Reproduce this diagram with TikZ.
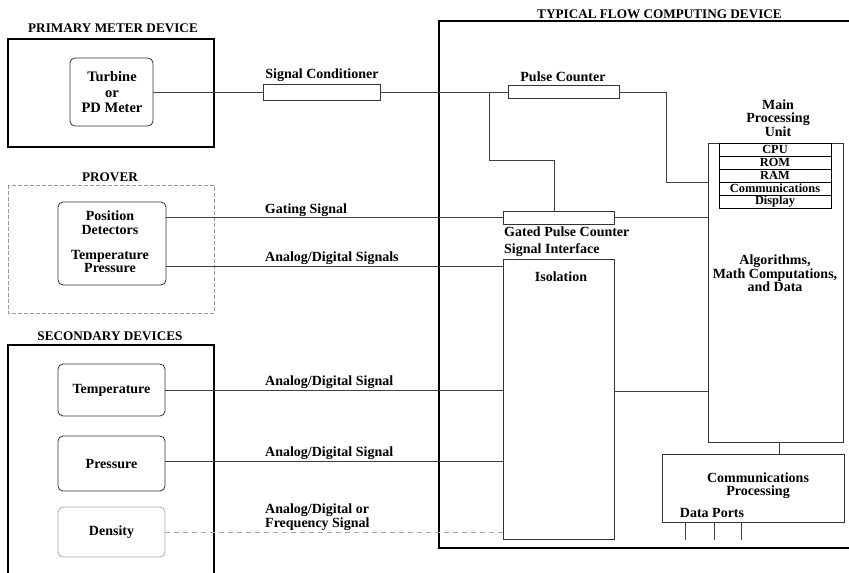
\documentclass[tikz,border=0pt]{standalone}
\usepackage{fontspec}
\setmainfont{Liberation Serif}
\begin{document}
\begin{tikzpicture}[x=1pt,y=-1pt,
  lbl/.style={font=\fontsize{14}{13.5}\selectfont\bfseries, inner sep=0pt, align=center},
  head/.style={font=\fontsize{13.2}{13.5}\selectfont\bfseries, inner sep=0pt, align=center},
  small/.style={font=\fontsize{12.4}{12}\selectfont\bfseries, inner sep=0pt},
  thickbox/.style={draw=black, line width=1.8pt},
  dev/.style={draw=black!80, line width=0.8pt, rounded corners=5pt, inner sep=0pt, outer sep=0pt},
  blk/.style={draw=black!80, line width=0.8pt, inner sep=0pt, outer sep=0pt},
  conn/.style={draw=black!75, line width=0.8pt},
  faint/.style={draw=black!35, line width=0.8pt, dashed, dash pattern=on 5pt off 4pt}]
\useasboundingbox (0,0) rectangle (849,573);
% outer boxes
\draw[thickbox] (8,39) rectangle (214,147);
\draw[draw=black!40, line width=0.8pt, dash pattern=on 4pt off 2pt] (8,185) rectangle (214,313);
\draw[thickbox] (8,580) -- (8,345) -- (214,345) -- (214,580);
\draw[thickbox] (852,21) -- (439,21) -- (439,548) -- (852,548);
% headings
\node[head] (hPrim) at (113,28.5) {PRIMARY METER DEVICE};
\node[head] (hProv) at (110,177.5) {PROVER};
\node[head] (hSec) at (110,336) {SECONDARY DEVICES};
\node[head] (hFlow) at (659.5,14) {TYPICAL FLOW COMPUTING DEVICE};
% devices
\node[dev, minimum width=83pt, minimum height=68pt] (turb) at (111.5,92) {};
\node[lbl, font=\fontsize{14.5}{15.5}\selectfont\bfseries] (turbT) at (112,92.5) {Turbine\\or\\PD Meter};
\node[dev, minimum width=108pt, minimum height=83pt] (pos) at (112,243.5) {};
\node[lbl] (posT1) at (110,222.5) {Position\\Detectors};
\node[lbl] (posT2) at (110,261.5) {Temperature\\Pressure};
\node[dev, minimum width=107pt, minimum height=52pt, lbl] (temp) at (111.5,390) {Temperature};
\node[dev, minimum width=107pt, minimum height=55pt, lbl] (press) at (111.5,463.5) {Pressure};
\node[dev, draw=black!35, minimum width=107pt, minimum height=50pt, lbl] (dens) at (111.5,532) {Density};
% signal blocks
\node[blk, minimum width=117pt, minimum height=16pt] (sc) at (321.5,92) {};
\node[lbl] (scT) at (322,75) {Signal Conditioner};
\node[blk, minimum width=111pt, minimum height=13pt] (pc) at (563.5,92) {};
\node[lbl] (pcT) at (563,77) {Pulse Counter};
\node[blk, minimum width=111pt, minimum height=13pt] (gpc) at (558.5,217.5) {};
\node[lbl, anchor=west] (gpcT) at (504,232) {Gated Pulse Counter};
\node[lbl, anchor=west] (sifT) at (504,250) {Signal Interface};
\node[blk, minimum width=111pt, minimum height=280pt] (iso) at (558.5,399) {};
\node[lbl] (isoT) at (561,277) {Isolation};
% main processing unit
\node[blk, minimum width=135pt, minimum height=299pt] (mpu) at (775.5,292.5) {};
\node[lbl] (mpuT) at (778,118) {Main\\Processing\\Unit};
\node[lbl] (algT) at (775,273.5) {Algorithms,\\Math Computations,\\and Data};
\foreach \n/\t [count=\i from 0] in {cpu/CPU, rom/ROM, ram/RAM, com/Communications, dsp/Display}{
  \node[draw=black, line width=1pt, minimum width=112pt, minimum height=13pt, inner sep=0pt, outer sep=0pt, small] (\n) at (775,149.5+13*\i) {\t};
}
% communications processing
\node[blk, minimum width=182pt, minimum height=68pt] (cp) at (753,488) {};
\node[lbl, font=\fontsize{14}{13}\selectfont\bfseries] (cpT) at (758,485.5) {Communications\\Processing};
\node[lbl] (dpT) at (712,513) {Data Ports};
% signal labels
\node[lbl] (gsT) at (306,210) {Gating Signal};
\node[lbl, anchor=west] (adsT) at (265,258) {Analog/Digital Signals};
\node[lbl, anchor=west] (ad1T) at (265,382) {Analog/Digital Signal};
\node[lbl, anchor=west] (ad2T) at (265,453) {Analog/Digital Signal};
\node[lbl, anchor=west, align=left, font=\fontsize{14}{11}\selectfont\bfseries] (ad3T) at (265,517) {Analog/Digital or\\Frequency Signal};
% connectors
\draw[conn] (turb.east) -- (sc.west);
\draw[conn] (sc.east) -- (pc.west);
\coordinate (br) at (489,92);
\coordinate (brTurn) at (489,160);
\coordinate (gIn) at (554,211);
\draw[conn] (br) -- (brTurn) -| (gIn);
\coordinate (pcTurn) at (666,182);
\draw[conn] (pc.east) -| (pcTurn) -- (pcTurn -| mpu.west);
\draw[conn] (gpc.west -| pos.east) -- (gpc.west);
\draw[conn] (gpc.east) -- (gpc.east -| mpu.west);
\coordinate (adsY) at (0,266);
\draw[conn] (pos.east |- adsY) -- (iso.west |- adsY);
\draw[conn] (temp.east) -- (temp.east -| iso.west);
\coordinate (prY) at (0,461);
\draw[conn] (press.east |- prY) -- (iso.west |- prY);
\draw[faint] (dens.east) -- (dens.east -| iso.west);
\coordinate (isoY) at (0,391);
\draw[conn] (iso.east |- isoY) -- (mpu.west |- isoY);
\coordinate (mpuX) at (779,0);
\draw[conn] (mpu.south -| mpuX) -- (cp.north -| mpuX);
\foreach \x [count=\i] in {685,714,741}{
  \coordinate (dp\i) at (\x,540);
  \draw[conn] (cp.south -| dp\i) -- (dp\i);
}
\end{tikzpicture}
\end{document}
